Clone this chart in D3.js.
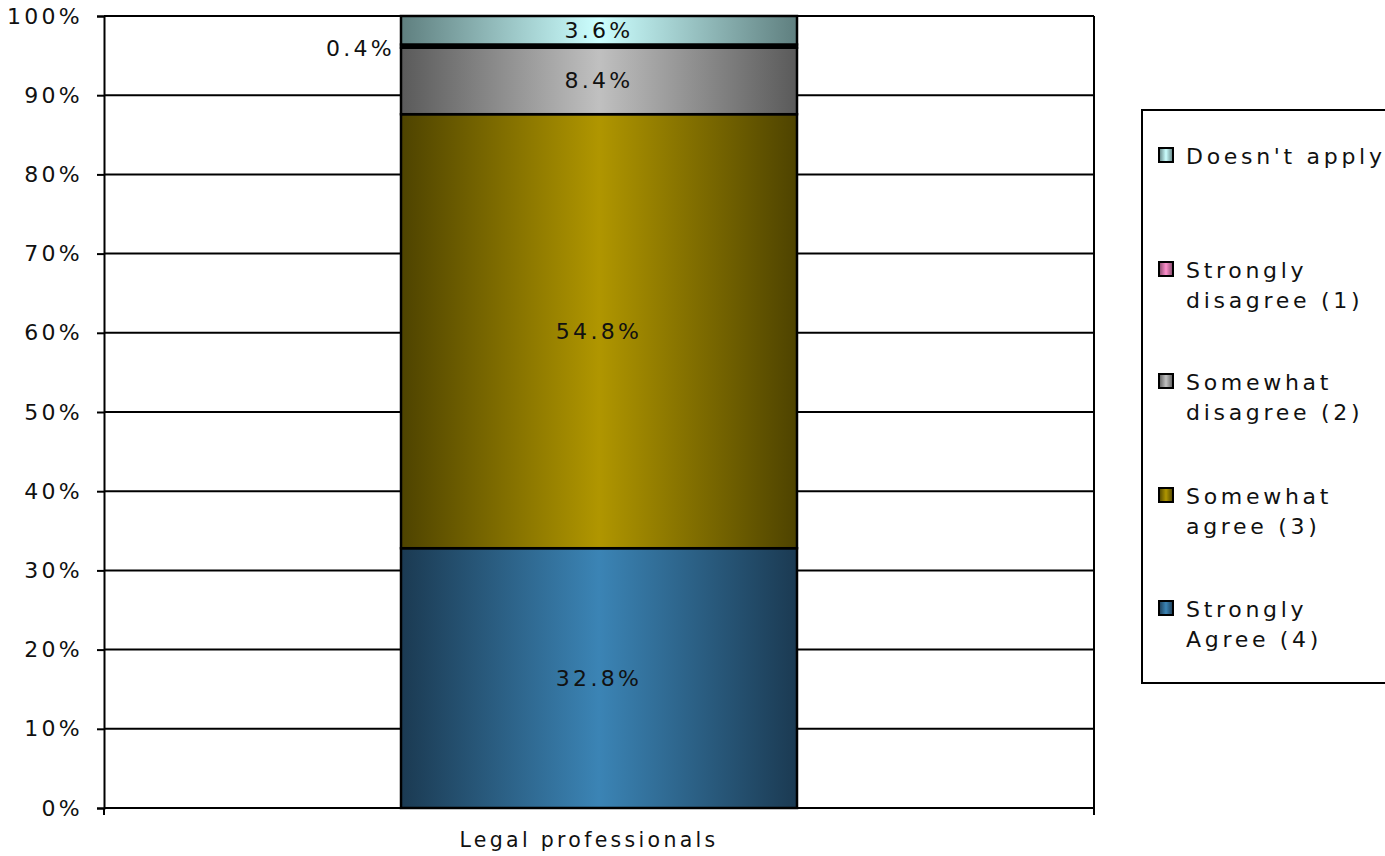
<!DOCTYPE html>
<html>
<head>
<meta charset="utf-8">
<script src="https://cdn.jsdelivr.net/npm/d3@7"></script>
<style>
  html, body { margin: 0; padding: 0; background: #fff; }
  svg { display: block; }
  text { font-family: "DejaVu Sans", Verdana, sans-serif; font-size: 22px; letter-spacing: 3.3px; fill: #111; }
  text.cat { font-size: 20.5px; letter-spacing: 3.3px; }
  text.leg { font-size: 22px; letter-spacing: 3.7px; }
</style>
</head>
<body>
<svg id="chart" width="1385" height="856"></svg>
<script>
// ---- data ----
const categories = ["Legal professionals"];
const seriesNames = ["Strongly Agree (4)", "Somewhat agree (3)", "Somewhat disagree (2)", "Strongly disagree (1)", "Doesn't apply"];
const seriesValues = [32.8, 54.8, 8.4, 0.4, 3.6];
const seriesLabels = ["32.8%", "54.8%", "8.4%", "0.4%", "3.6%"];
const legendLines = [["Doesn't apply"], ["Strongly", "disagree (1)"], ["Somewhat", "disagree (2)"], ["Somewhat", "agree (3)"], ["Strongly", "Agree (4)"]];
const legendOrder = [4, 3, 2, 1, 0];
const yTicks = [0, 10, 20, 30, 40, 50, 60, 70, 80, 90, 100];
const edgeColors = ["#1b3a52", "#4e4300", "#5a5a5a", "#7f4766", "#5f7f7f"];
const centerColors = ["#3b84b5", "#b09600", "#c0c0c0", "#ff8fcc", "#ccffff"];

const svg = d3.select("#chart");
const L = 104, R = 1094, T = 16, B = 808;

const x = d3.scaleBand().domain(categories).range([L, R]).paddingInner(0).paddingOuter(0.75);
const y = d3.scaleLinear().domain([0, 100]).range([B, T]);

// gradients
const defs = svg.append("defs");
seriesNames.forEach((n, i) => {
  const g = defs.append("linearGradient").attr("id", "g" + i)
    .attr("x1", "0%").attr("x2", "100%").attr("y1", "0%").attr("y2", "0%");
  g.append("stop").attr("offset", "0%").attr("stop-color", edgeColors[i]);
  g.append("stop").attr("offset", "50%").attr("stop-color", centerColors[i]);
  g.append("stop").attr("offset", "100%").attr("stop-color", edgeColors[i]);
});

// gridlines
svg.append("g").selectAll("line").data(yTicks).join("line")
  .attr("x1", L).attr("x2", R)
  .attr("y1", d => y(d)).attr("y2", d => y(d))
  .attr("stroke", "#000").attr("stroke-width", 2);

// right border
svg.append("line").attr("x1", R).attr("x2", R).attr("y1", T).attr("y2", B + 7)
  .attr("stroke", "#000").attr("stroke-width", 2);

// y axis
const yAxis = d3.axisLeft(y).tickValues(yTicks).tickFormat(d => d + "%").tickSize(7).tickPadding(14);
const ya = svg.append("g").attr("transform", `translate(${L},0)`).call(yAxis);
ya.select(".domain").attr("stroke", "#000").attr("stroke-width", 2);
ya.selectAll(".tick line").attr("stroke", "#000").attr("stroke-width", 2);
ya.selectAll(".tick text").attr("font-family", null).attr("font-size", null).style("fill", "#111");

// x axis
const xAxis = d3.axisBottom(x).tickSize(0).tickPadding(24);
const xa = svg.append("g").attr("transform", `translate(0,${B})`).call(xAxis);
xa.select(".domain").remove();
xa.selectAll(".tick text").attr("class", "cat").attr("font-family", null).attr("font-size", null)
  .attr("dx", -10).style("fill", "#111");
// bottom tick at left plot edge
svg.append("g").selectAll("line").data([L]).join("line")
  .attr("x1", d => d).attr("x2", d => d).attr("y1", B).attr("y2", B + 7)
  .attr("stroke", "#000").attr("stroke-width", 2);

// stacked bar
let cum = 0;
const stacks = seriesValues.map((v, i) => { const s = { i, y0: cum, y1: cum + v }; cum += v; return s; });
const cat = categories[0];
svg.append("g").selectAll("rect").data(stacks).join("rect")
  .attr("x", x(cat)).attr("width", x.bandwidth())
  .attr("y", d => y(d.y1)).attr("height", d => y(d.y0) - y(d.y1))
  .attr("fill", d => `url(#g${d.i})`)
  .attr("stroke", "#000").attr("stroke-width", 2.5);
// thin strongly-disagree slice renders as a dark band
svg.append("g").selectAll("rect").data(stacks.filter(d => d.i === 3)).join("rect")
  .attr("x", x(cat)).attr("width", x.bandwidth())
  .attr("y", d => y(d.y1)).attr("height", d => y(d.y0) - y(d.y1))
  .attr("fill", "#000");

// labels
svg.append("g").selectAll("text").data(stacks).join("text")
  .attr("x", d => d.i === 3 ? x(cat) - 6 : x(cat) + x.bandwidth() / 2)
  .attr("y", d => d.i === 3 ? y(d.y1) + 4 : y((d.y0 + d.y1) / 2))
  .attr("text-anchor", d => d.i === 3 ? "end" : "middle")
  .attr("dominant-baseline", "central")
  .text(d => seriesLabels[d.i]);

// legend
const lg = svg.append("g");
lg.append("rect").attr("x", 1142).attr("y", 110).attr("width", 300).attr("height", 573)
  .attr("fill", "#fff").attr("stroke", "#000").attr("stroke-width", 2);
const itemY = [155, 269, 381, 495, 608];
legendOrder.forEach((si, k) => {
  const g = lg.append("g");
  g.append("rect").attr("x", 1159).attr("y", itemY[k] - 7).attr("width", 14).attr("height", 14)
    .attr("fill", `url(#g${si})`).attr("stroke", "#000").attr("stroke-width", 2);
  legendLines[k].forEach((t, j) => {
    g.append("text").attr("class", "leg").attr("x", 1186).attr("y", itemY[k] + 1 + j * 30)
      .attr("dominant-baseline", "central").text(t);
  });
});
</script>
</body>
</html>
